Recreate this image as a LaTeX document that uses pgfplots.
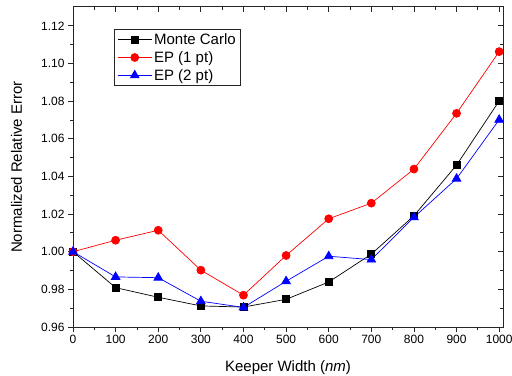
\documentclass[border=0pt]{standalone}
\usepackage{pgfplots}
\pgfplotsset{compat=1.18}
\usepackage{fontspec}
\setmainfont{Liberation Sans}
\begin{document}
\begin{tikzpicture}[x=1bp,y=1bp]
\path[use as bounding box] (0,0) rectangle (512,375);
\pgfplotsset{
  common/.style={
    at={(73bp,48bp)}, anchor=south west,
    scale only axis, width=430bp, height=320bp,
    xmin=0, xmax=1009, ymin=0.96, ymax=1.13,
    xtick={0,100,200,300,400,500,600,700,800,900,1000},
    ytick={0.96,0.98,1.00,1.02,1.04,1.06,1.08,1.10,1.12},
    minor x tick num=1, minor y tick num=1,
    major tick length=5bp, minor tick length=3bp,
    axis line style={line width=1bp, black!85},
    every tick/.style={line width=0.8bp, black!85},
  }
}
% mirrored inward ticks (top/right)
\begin{axis}[common, tick align=inside, xtick pos=right, ytick pos=right,
  xticklabels={}, yticklabels={}]
\end{axis}
\begin{axis}[common, tick align=outside, xtick pos=left, ytick pos=left,
  axis line style={draw=none},
  tick label style={font=\fontsize{12bp}{14bp}\selectfont},
  /pgf/number format/assume math mode=true,
  yticklabel style={/pgf/number format/.cd, fixed, fixed zerofill, precision=2},
  xticklabel style={/pgf/number format/.cd, fixed, precision=0, 1000 sep={}},
  scaled y ticks=false, scaled x ticks=false,
  xlabel={Keeper Width (\textit{nm})},
  ylabel={Normalized Relative Error},
  every axis x label/.style={at={(axis description cs:0.5,0)}, anchor=base, yshift=-44bp, font=\fontsize{15bp}{17bp}\selectfont},
  every axis y label/.style={at={(axis description cs:-0.1186,0.5)}, anchor=base, rotate=90, font=\fontsize{15bp}{17bp}\selectfont},
  legend cell align=left,
  legend style={at={(0.0953,0.931)}, anchor=north west, draw=black!85, line width=0.8bp,
    font=\fontsize{15bp}{17bp}\selectfont, inner xsep=3bp, inner ysep=2bp, row sep=1.5bp,
    /tikz/every odd column/.style={}},
  legend image code/.code={\draw[mark repeat=2,mark phase=2] plot coordinates {(0bp,0bp)(17bp,0bp)(34bp,0bp)};},
]
\addplot[black, line width=0.7bp, mark=square*, mark size=3.5bp, mark options={solid}] coordinates {
(0,1.000) (100,0.9809) (200,0.9758) (300,0.9712) (400,0.9706) (500,0.9747)
(600,0.9839) (700,0.9987) (800,1.0191) (900,1.0460) (1000,1.0801)};
\addlegendentry{Monte Carlo\hspace{6bp}}
\addplot[red, line width=0.7bp, mark=*, mark size=4bp] coordinates {
(0,1.000) (100,1.0061) (200,1.0114) (300,0.9902) (400,0.9769) (500,0.9980)
(600,1.0175) (700,1.0258) (800,1.0439) (900,1.0735) (1000,1.1063)};
\addlegendentry{EP (1 pt)}
\addplot[blue, line width=0.7bp, mark=triangle*, mark size=5bp] coordinates {
(0,1.000) (100,0.9866) (200,0.9862) (300,0.9737) (400,0.9704) (500,0.9843)
(600,0.9976) (700,0.9958) (800,1.0183) (900,1.0388) (1000,1.0701)};
\addlegendentry{EP (2 pt)}
\end{axis}
\end{tikzpicture}
\end{document}
